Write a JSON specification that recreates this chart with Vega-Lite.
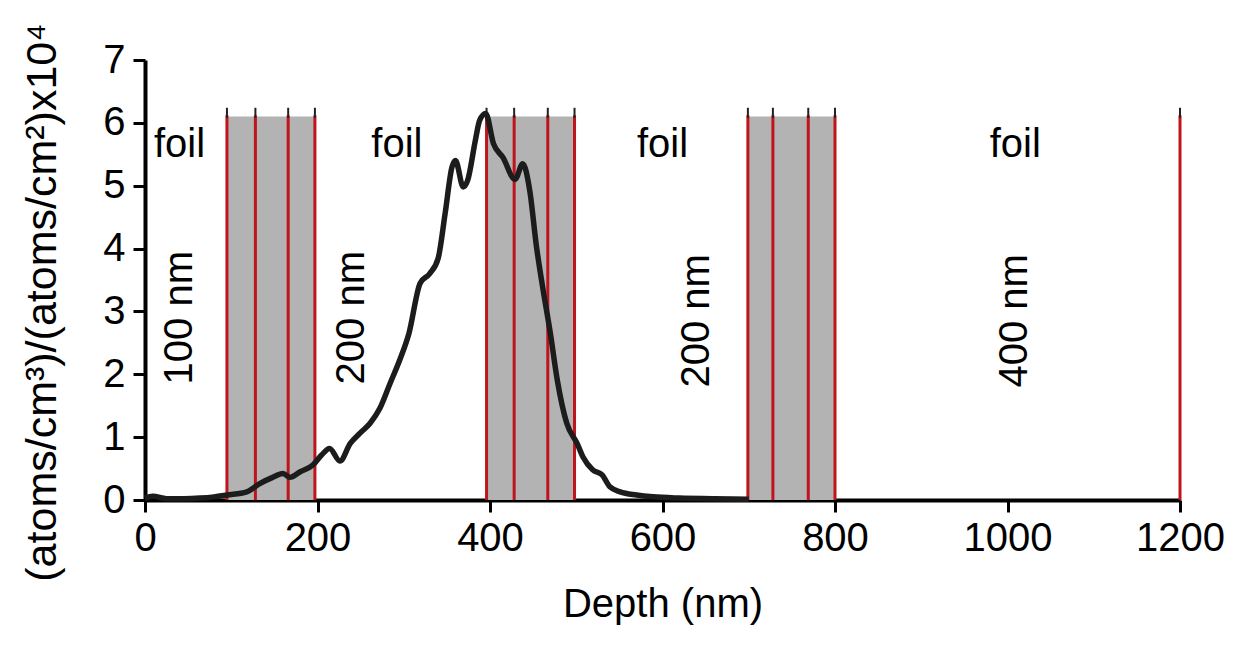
{
  "$schema": "https://vega.github.io/schema/vega-lite/v6.json",
  "width": 1035,
  "height": 440,
  "autosize": "none",
  "padding": {"left": 145, "top": 60, "right": 59, "bottom": 145},
  "background": "white",
  "config": {
    "view": {"stroke": null},
    "font": "Liberation Sans",
    "axis": {"grid": false}
  },
  "datasets": {
    "curve": [
      {"depth": 0, "conc": 0.03}, {"depth": 9, "conc": 0.06}, {"depth": 25, "conc": 0.02},
      {"depth": 45, "conc": 0.02}, {"depth": 64, "conc": 0.03}, {"depth": 80, "conc": 0.05},
      {"depth": 95, "conc": 0.08}, {"depth": 118, "conc": 0.13}, {"depth": 133, "conc": 0.26},
      {"depth": 148, "conc": 0.36}, {"depth": 160, "conc": 0.42}, {"depth": 168, "conc": 0.36},
      {"depth": 180, "conc": 0.45}, {"depth": 195, "conc": 0.56}, {"depth": 205, "conc": 0.72},
      {"depth": 214, "conc": 0.82}, {"depth": 226, "conc": 0.62}, {"depth": 238, "conc": 0.9},
      {"depth": 249, "conc": 1.06}, {"depth": 261, "conc": 1.22}, {"depth": 272, "conc": 1.45},
      {"depth": 284, "conc": 1.85}, {"depth": 296, "conc": 2.25}, {"depth": 306, "conc": 2.65},
      {"depth": 319, "conc": 3.45}, {"depth": 330, "conc": 3.6}, {"depth": 340, "conc": 3.85},
      {"depth": 348, "conc": 4.56}, {"depth": 356, "conc": 5.3}, {"depth": 360, "conc": 5.4},
      {"depth": 369, "conc": 4.98}, {"depth": 374, "conc": 5.08}, {"depth": 383, "conc": 5.72},
      {"depth": 388, "conc": 6.04}, {"depth": 395, "conc": 6.15}, {"depth": 404, "conc": 5.67},
      {"depth": 415, "conc": 5.45}, {"depth": 429, "conc": 5.1}, {"depth": 438, "conc": 5.35},
      {"depth": 446, "conc": 4.93}, {"depth": 454, "conc": 4.02}, {"depth": 461, "conc": 3.39},
      {"depth": 470, "conc": 2.65}, {"depth": 478, "conc": 1.91}, {"depth": 489, "conc": 1.22},
      {"depth": 501, "conc": 0.9}, {"depth": 508, "conc": 0.68}, {"depth": 519, "conc": 0.48},
      {"depth": 530, "conc": 0.4}, {"depth": 539, "conc": 0.21}, {"depth": 551, "conc": 0.13},
      {"depth": 570, "conc": 0.08}, {"depth": 589, "conc": 0.05}, {"depth": 620, "conc": 0.03},
      {"depth": 660, "conc": 0.02}, {"depth": 700, "conc": 0.01}
    ],
    "bands": [
      {"x1": 95, "x2": 197},
      {"x1": 396, "x2": 498},
      {"x1": 699, "x2": 800}
    ],
    "lines": [
      {"x": 95}, {"x": 128}, {"x": 166}, {"x": 197},
      {"x": 396}, {"x": 428}, {"x": 467}, {"x": 498},
      {"x": 699}, {"x": 728}, {"x": 769}, {"x": 800},
      {"x": 1200}
    ],
    "foil": [
      {"x": 40, "y": 5.65, "t": "foil"},
      {"x": 292, "y": 5.65, "t": "foil"},
      {"x": 600, "y": 5.65, "t": "foil"},
      {"x": 1009, "y": 5.65, "t": "foil"}
    ],
    "thick": [
      {"x": 40, "y": 2.9, "t": "100 nm"},
      {"x": 240, "y": 2.9, "t": "200 nm"},
      {"x": 640, "y": 2.85, "t": "200 nm"},
      {"x": 1009, "y": 2.85, "t": "400 nm"}
    ]
  },
  "layer": [
    {
      "data": {"name": "bands"},
      "mark": {"type": "rect", "color": "#b3b3b3"},
      "encoding": {
        "x": {"field": "x1", "type": "quantitative", "scale": {"domain": [0, 1200], "nice": false},
          "axis": {
            "title": "Depth (nm)", "values": [0, 200, 400, 600, 800, 1000, 1200], "format": "d",
            "domainColor": "black", "domainWidth": 4, "tickColor": "black", "tickWidth": 3, "tickSize": 12,
            "labelFontSize": 40, "labelColor": "black", "labelPadding": 6, "labelFlush": false,
            "titleFontSize": 40, "titleFontWeight": "normal", "titleColor": "black", "titlePadding": 26
          }},
        "x2": {"field": "x2"},
        "y": {"datum": 0, "type": "quantitative", "scale": {"domain": [0, 7], "nice": false},
          "axis": {
            "title": "(atoms/cm³)/(atoms/cm²)x10⁴", "values": [0, 1, 2, 3, 4, 5, 6, 7], "format": "d",
            "domainColor": "black", "domainWidth": 4, "tickColor": "black", "tickWidth": 3, "tickSize": 12,
            "labelFontSize": 40, "labelColor": "black", "labelPadding": 8,
            "titleFontSize": 43, "titleFontWeight": "normal", "titleColor": "black", "titlePadding": 38,
            "titleY": 242
          }},
        "y2": {"datum": 6.1}
      }
    },
    {
      "data": {"name": "lines"},
      "mark": {"type": "rule", "color": "#c0141c", "strokeWidth": 3},
      "encoding": {
        "x": {"field": "x", "type": "quantitative"},
        "y": {"datum": 0, "type": "quantitative"},
        "y2": {"datum": 6.12}
      }
    },
    {
      "data": {"name": "lines"},
      "mark": {"type": "rule", "color": "#222222", "strokeWidth": 2},
      "encoding": {
        "x": {"field": "x", "type": "quantitative"},
        "y": {"datum": 6.08, "type": "quantitative"},
        "y2": {"datum": 6.24}
      }
    },
    {
      "data": {"name": "curve"},
      "mark": {"type": "line", "color": "#1c1c1c", "strokeWidth": 5.5, "interpolate": "monotone"},
      "encoding": {
        "x": {"field": "depth", "type": "quantitative"},
        "y": {"field": "conc", "type": "quantitative"}
      }
    },
    {
      "data": {"name": "foil"},
      "mark": {"type": "text", "fontSize": 40, "color": "black", "align": "center", "baseline": "middle"},
      "encoding": {
        "x": {"field": "x", "type": "quantitative"},
        "y": {"field": "y", "type": "quantitative"},
        "text": {"field": "t"}
      }
    },
    {
      "data": {"name": "thick"},
      "mark": {"type": "text", "fontSize": 40, "color": "black", "align": "center", "baseline": "middle", "angle": 270},
      "encoding": {
        "x": {"field": "x", "type": "quantitative"},
        "y": {"field": "y", "type": "quantitative"},
        "text": {"field": "t"}
      }
    }
  ]
}
